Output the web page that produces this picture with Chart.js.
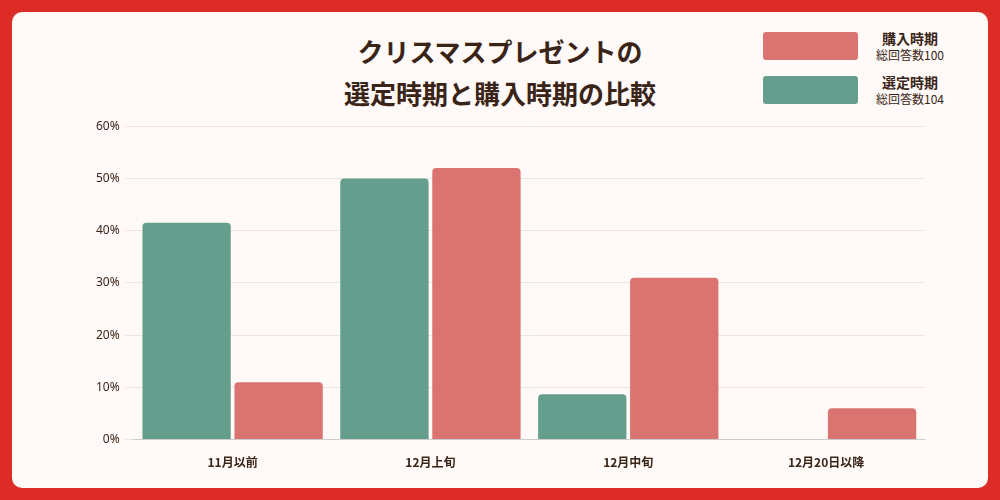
<!DOCTYPE html>
<html><head><meta charset="utf-8">
<script src="https://cdn.jsdelivr.net/npm/chart.js@4"></script>
<style>
html,body{margin:0;padding:0;width:1000px;height:500px;background:#dd2c27;overflow:hidden;font-family:"Noto Sans CJK JP","Noto Sans",sans-serif}
#panel{position:absolute;left:12px;top:12px;width:976px;height:476px;background:#fffaf7;border-radius:10px}
#title{position:absolute;left:0;top:30px;width:1000px;text-align:center;font-size:26px;font-weight:bold;color:#3a2418;line-height:42px}
.lg{position:absolute;left:763px;width:95px;height:28px;border-radius:3px}
.lt{position:absolute;left:858px;width:104px;text-align:center;color:#3a2418}
.lt b{display:block;font-size:14px;line-height:17px}
.lt span{display:block;font-size:12px;line-height:15px}
#wrap{position:absolute;left:90px;top:113px;width:835px;height:365px}
</style></head><body>
<div id="panel"></div>
<div id="title">クリスマスプレゼントの<br>選定時期と購入時期の比較</div>
<div class="lg" style="top:32px;background:#d97470"></div>
<div class="lt" style="top:30px"><b>購入時期</b><span>総回答数100</span></div>
<div class="lg" style="top:76px;background:#669e8e"></div>
<div class="lt" style="top:74px"><b>選定時期</b><span>総回答数104</span></div>
<div id="wrap"><canvas id="c"></canvas></div>
<script>
const categories=["11月以前","12月上旬","12月中旬","12月20日以降"];
const selectValues=[41.5,50,8.7,0];
const buyValues=[11,52,31,6];
const yTicks=[0,10,20,30,40,50,60];
new Chart(document.getElementById('c'),{
type:'bar',
data:{labels:categories,datasets:[
{label:'選定時期',data:selectValues,backgroundColor:'#669e8e',borderRadius:{topLeft:4,topRight:4},borderSkipped:'bottom'},
{label:'購入時期',data:buyValues,backgroundColor:'#d97470',borderRadius:{topLeft:4,topRight:4},borderSkipped:'bottom'}]},
options:{responsive:true,maintainAspectRatio:false,animation:false,
categoryPercentage:0.93,barPercentage:0.96,
plugins:{legend:{display:false},tooltip:{enabled:false}},
scales:{
x:{grid:{display:false},border:{display:true,color:'#cccccc'},ticks:{color:'#3a2418',font:{family:'Noto Sans CJK JP',size:12,weight:'bold'},padding:8}},
y:{min:0,max:60,afterBuildTicks:a=>{a.ticks=yTicks.map(v=>({value:v}))},
grid:{color:'#ebe6e3'},border:{display:false},
ticks:{color:'#3a2418',font:{family:'Noto Sans',size:12},callback:v=>v+'%',padding:6}}}}
});
</script></body></html>
